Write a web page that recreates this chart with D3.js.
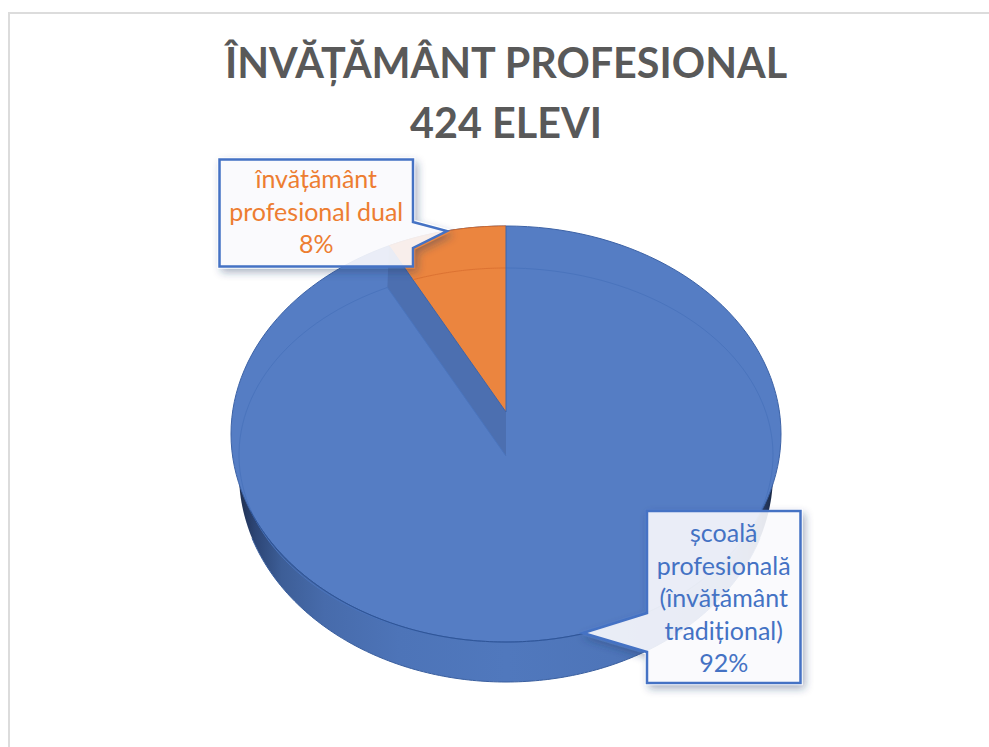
<!DOCTYPE html>
<html><head><meta charset="utf-8">
<script src="https://cdn.jsdelivr.net/npm/d3@7"></script>
<style>html,body{margin:0;padding:0;background:#fff}svg{display:block}text{font-family:Lato,Carlito,"Open Sans",sans-serif}</style>
</head><body><svg id="c" width="989" height="747"></svg>
<script>
const titleLines = ["ÎNVĂȚĂMÂNT PROFESIONAL", "424 ELEVI"];
const categories = ["școală profesională (învățământ tradițional)", "învățământ profesional dual"];
const values = [92, 8];
const labelLines = [["școală","profesională","(învățământ","tradițional)","92%"],["învățământ","profesional dual","8%"]];
const colors = ["#557dc4", "#eb853f"];
const labelColors = ["#4472c4", "#ed7d31"];

const svg = d3.select("#c");
const defs = svg.append("defs");
const W = 989, H = 747;
const outer = {cx:506, cy:434, rx:275, ry:208};
const inner = {cx:506, cy:455, rx:267, ry:187};
const bottom = {cx:506, cy:474, rx:267, ry:208};
const apexOrange = [506,412], apexBlue = [506,456];
const aspect = 1.28;

// frame
svg.append("path").attr("d",`M${W},13H9V${H}`).attr("fill","none").attr("stroke","#dcdcdc").attr("stroke-width",2);

// gradient of the side wall
const g = defs.append("linearGradient").attr("id","side").attr("gradientUnits","userSpaceOnUse")
  .attr("x1",outer.cx-bottom.rx).attr("x2",outer.cx+bottom.rx).attr("y1",0).attr("y2",0);
[[0,"#1f2f50"],[0.03,"#2c4575"],[0.08,"#3d5e97"],[0.16,"#476bab"],[0.3,"#4d74b8"],[0.5,"#5078bd"],[0.7,"#4e75b9"],[0.85,"#4a6fb0"],[0.93,"#42659f"],[0.97,"#2f4875"],[1,"#1a2845"]]
  .forEach(([o,c])=>g.append("stop").attr("offset",o).attr("stop-color",c));

// shadow that stays outside the translucent box
const f = defs.append("filter").attr("id","sh").attr("x","-20%").attr("y","-20%").attr("width","140%").attr("height","140%");
f.append("feGaussianBlur").attr("in","SourceAlpha").attr("stdDeviation",4).attr("result","b");
f.append("feOffset").attr("in","b").attr("dx",3).attr("dy",4).attr("result","o");
f.append("feFlood").attr("flood-color","#1f3864").attr("flood-opacity",.45).attr("result","c");
f.append("feComposite").attr("in","c").attr("in2","o").attr("operator","in").attr("result","s");
f.append("feMorphology").attr("in","SourceAlpha").attr("operator","dilate").attr("radius",1).attr("result","shape");
f.append("feComposite").attr("in","s").attr("in2","shape").attr("operator","out").attr("result","ss");
const m = f.append("feMerge");
m.append("feMergeNode").attr("in","ss");
m.append("feMergeNode").attr("in","SourceGraphic");

// pie angles through d3
const pie = d3.pie().sort(null).value(d=>d);
const arcs = pie(values);
const boundary = arcs[1].startAngle;

const line = d3.line();
const pt = (e,t)=>[e.cx+e.rx*Math.sin(t), e.cy-e.ry*Math.cos(t)];
const ell = (e,a,b,n=160)=>d3.range(n+1).map(i=>pt(e,a+(b-a)*i/n));
function hit(e,a,ang){
  const dx=Math.sin(ang)*aspect, dy=-Math.cos(ang);
  const X=(a[0]-e.cx)/e.rx,Y=(a[1]-e.cy)/e.ry,U=dx/e.rx,V=dy/e.ry;
  const A=U*U+V*V,B=2*(X*U+Y*V),C=X*X+Y*Y-1,s=(-B+Math.sqrt(B*B-4*A*C))/(2*A);
  const x=(a[0]+s*dx-e.cx)/e.rx,y=(a[1]+s*dy-e.cy)/e.ry;
  let t=Math.atan2(x,-y); if(t<0)t+=2*Math.PI; return t;
}

// side wall: fill the lower half, stroke only the part below the top surface
svg.append("path").attr("d",line(ell(bottom,Math.PI/2,3*Math.PI/2))+"Z").attr("fill","url(#side)");
svg.append("path").attr("d",line(ell(bottom,Math.PI*0.6,Math.PI*1.4))).attr("fill","none").attr("stroke","#3a5f9f").attr("stroke-width",1);

// blue top surface
svg.append("path").attr("d",line(ell(outer,0,2*Math.PI))+"Z").attr("fill",colors[0]).attr("stroke","#3c62a6").attr("stroke-width",1);

// wedge wall
const tO = hit(outer,apexOrange,boundary), tB = hit(inner,apexBlue,boundary);
const pO = pt(outer,tO), pB = pt(inner,tB);
svg.append("path").attr("d",line([pO,pB,apexBlue,apexOrange])+"Z").attr("fill","#4c6fb0");

// orange slice
svg.append("path").attr("d",line([apexOrange,...ell(outer,tO,2*Math.PI,50)])+"Z").attr("fill",colors[1]);
svg.append("path").attr("d",line([apexOrange,pO])).attr("stroke","#3e64a8").attr("stroke-width",1).attr("fill","none");
svg.append("path").attr("d",line(ell(outer,tO,2*Math.PI,50))).attr("stroke","#d2692a").attr("stroke-width",1).attr("fill","none");

// inner rim line
const tI = hit(inner,apexOrange,boundary);
svg.append("path").attr("d",line(ell(inner,tI,2*Math.PI,50))).attr("fill","none").attr("stroke","#dc7232").attr("stroke-width",1);
svg.append("path").attr("d",line(ell(inner,0,tB))).attr("fill","none").attr("stroke","#4a74bd").attr("stroke-width",1);
svg.append("path").attr("d",line(ell(outer,Math.PI*0.62,Math.PI*1.38))).attr("fill","none").attr("stroke","#2f5597").attr("stroke-width",1);
svg.append("path").attr("d",line([apexBlue,pB])).attr("fill","none").attr("stroke","#4a74bd").attr("stroke-width",1);
svg.append("path").attr("d",line([[506,226],apexOrange])).attr("fill","none").attr("stroke","#3e64a8").attr("stroke-width",1);

// title
svg.selectAll("text.t").data(titleLines).join("text").attr("class","t")
  .attr("x",506).attr("y",(d,i)=>78+i*60).attr("text-anchor","middle")
  .attr("font-size",41.3).attr("font-weight",700).attr("fill","#595959").text(d=>d);

// callouts
function callout(x0,y0,x1,y1,side,b0,b1,tip,idx,firstBase,step){
  const p = side==="right"
    ? [[x0,y0],[x1,y0],[x1,b0],tip,[x1,b1],[x1,y1],[x0,y1]]
    : [[x0,y0],[x1,y0],[x1,y1],[x0,y1],[x0,b1],tip,[x0,b0]];
  svg.append("path").attr("d",line(p)+"Z").attr("fill","#f9fafd").attr("fill-opacity",.9)
    .attr("stroke","#4472c4").attr("stroke-width",2.5).attr("filter","url(#sh)");
  svg.append("g").selectAll("text").data(labelLines[idx]).join("text")
    .attr("x",(x0+x1)/2).attr("y",(d,i)=>firstBase+i*step).attr("text-anchor","middle")
    .attr("font-size",25).attr("fill",labelColors[idx]).text(d=>d);
}
callout(219.5,159.5,413,266.5,"right",222,248,[447,231],1,188,32.5);
callout(647,511,800.5,683,"left",613,652,[583,633],0,542,32.5);
</script></body></html>
